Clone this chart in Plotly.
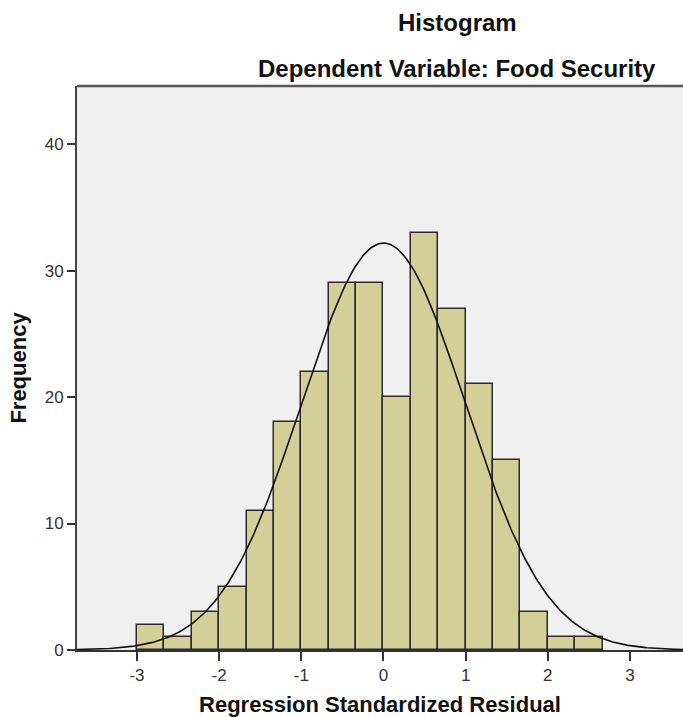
import numpy as np
import plotly.graph_objects as go

# Histogram bins (left edges, width 1/3) and frequencies
bin_left = [-3.0, -8/3, -7/3, -2.0, -5/3, -4/3, -1.0, -2/3, -1/3, 0.0, 1/3, 2/3, 1.0, 4/3, 5/3, 2.0, 7/3]
bin_width = 1/3
freq = [2, 1, 3, 5, 11, 18, 22, 29, 29, 20, 33, 27, 21, 15, 3, 1, 1]

# Normal curve parameters
res_mean = 0.0
res_sd = 0.996
res_n = sum(freq)

x_ticks = [-3, -2, -1, 0, 1, 2, 3]
y_ticks = [0, 10, 20, 30, 40]

centers = [b + bin_width / 2 for b in bin_left]

fig = go.Figure()
fig.add_trace(go.Bar(
    x=centers, y=freq, width=[bin_width] * len(freq),
    marker=dict(color="#D3CF98", line=dict(color="#2b2b2b", width=1.5)),
    hoverinfo="x+y", showlegend=False,
))

xs = np.linspace(-3.8, 3.8, 400)
ys = res_n * bin_width / (res_sd * np.sqrt(2 * np.pi)) * np.exp(-0.5 * ((xs - res_mean) / res_sd) ** 2)
fig.add_trace(go.Scatter(x=xs, y=ys, mode="lines", line=dict(color="#111111", width=1.6),
                         showlegend=False, hoverinfo="skip"))

font_family = "Liberation Sans, Arial, sans-serif"

fig.update_layout(
    width=683, height=717,
    margin=dict(l=77, r=0, t=86, b=67),
    paper_bgcolor="white",
    plot_bgcolor="#F0F0F0",
    bargap=0,
    font=dict(family=font_family, color="#222222"),
    xaxis=dict(
        range=[-3.73, 3.645], tickvals=x_ticks, ticktext=[str(v) for v in x_ticks],
        ticks="outside", ticklen=9, tickwidth=1.5, tickcolor="#333333",
        showgrid=False, zeroline=False,
        showline=True, linecolor="#333333", linewidth=1.5,
        tickfont=dict(size=17, color="#333333"),
        title=dict(text="<b>Regression Standardized Residual</b>", font=dict(size=22, color="#111111"), standoff=14),
    ),
    yaxis=dict(
        range=[0, 44.6], tickvals=y_ticks, ticktext=[str(v) for v in y_ticks],
        ticks="outside", ticklen=8, tickwidth=1.5, tickcolor="#333333",
        showgrid=False, zeroline=False,
        showline=True, linecolor="#444444", linewidth=2, mirror=False,
        tickfont=dict(size=17, color="#333333"),
        title=dict(text="<b>Frequency</b>", font=dict(size=22, color="#111111"), standoff=12),
    ),
)

plot_w = 683 - 77
plot_h = 717 - 86 - 67
def px_to_paper(px, py):
    return (px - 77) / plot_w, (717 - 67 - py) / plot_h

tx, ty = px_to_paper(457, 22)
sx, sy = px_to_paper(457, 68)
fig.add_annotation(text="<b>Histogram</b>", x=tx, y=ty, xref="paper", yref="paper",
                   xanchor="center", yanchor="middle",
                   showarrow=False, font=dict(size=24, color="#111111"))
fig.add_annotation(text="<b>Dependent Variable: Food Security</b>", x=sx, y=sy, xref="paper", yref="paper",
                   xanchor="center", yanchor="middle",
                   showarrow=False, font=dict(size=24, color="#111111"))

# Top frame line
fig.add_shape(type="line", xref="paper", yref="paper", x0=0, x1=1, y0=1, y1=1,
              line=dict(color="#555555", width=2.5))

fig.write_html("out.html")
